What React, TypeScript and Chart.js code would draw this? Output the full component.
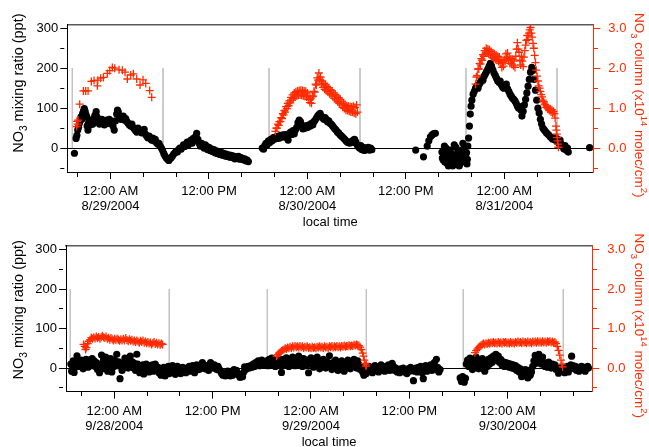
import { useEffect, useRef } from 'react';
import { Chart, registerables } from 'chart.js';
Chart.register(...registerables);

const FONT = '"Liberation Sans", Arial, Helvetica, sans-serif';
const RED = '#ff2a00';
const GRAY = '#c4c4c4';

// ---- shared axis data ----
const xTickHours = [-4, 0, 4, 8, 12, 16, 20, 24, 28, 32, 36, 40, 44, 48, 52, 56];
const leftTicks = [-50, 0, 50, 100, 150, 200, 250, 300];
const rightTicks = [-0.5, 0, 0.5, 1, 1.5, 2, 2.5, 3];
const topDates = ['8/29/2004', '8/30/2004', '8/31/2004'];
const bottomDates = ['9/28/2004', '9/29/2004', '9/30/2004'];

// sunset / sunrise markers (hours from first midnight)
const topSunLines = [-4.66, 6.4, 19.32, 30.41, 43.33, 54.43];
const bottomSunLines = [-5.37, 6.71, 18.67, 30.75, 42.58, 54.78];

// ---- top panel: NO3 mixing ratio (ppt) ----
const topBlack: [number, number][] = [
  [-4.4,-13],[-4.2,24],[-4.1,32],[-4.0,45],[-3.9,52],[-3.8,62],[-3.7,70],[-3.6,78],[-3.5,72],[-3.4,86],[-3.3,92],[-3.2,99],[-3.1,92],[-3.0,84],[-2.9,78],[-2.85,55],[-2.75,45],[-2.7,62],[-2.6,70],[-2.45,58],[-2.3,66],[-2.15,60],[-2.05,74],[-1.9,82],[-1.75,91],[-1.65,78],[-1.5,68],[-1.35,60],[-1.2,64],[-1.05,72],[-0.9,66],[-0.75,58],[-0.6,66],[-0.45,70],[-0.3,62],[-0.15,72],[0,68],[0.15,60],[0.3,55],[0.45,45],[0.6,68],[0.75,85],[0.85,95],[0.95,90],[1.1,80],[1.25,72],[1.4,78],[1.55,80],[1.7,70],[1.85,74],[2.0,66],[2.15,62],[2.3,58],[2.45,55],[2.6,60],[2.75,52],[2.9,48],[3.05,44],[3.2,40],[3.35,50],[3.5,46],[3.65,42],[3.8,38],[3.95,44],[4.1,47],[4.25,35],[4.4,30],[4.55,26],[4.7,30],[4.85,24],[5.0,20],[5.15,25],[5.3,18],[5.45,22],[5.6,14],[5.75,10],[5.9,12],[6.05,5],[6.2,0],[6.35,-6],[6.5,-14],[6.65,-20],[6.8,-25],[6.95,-28],[7.1,-31],[7.25,-27],[7.4,-24],[7.55,-20],[7.7,-15],[7.85,-12],[8.0,-8],[8.15,-10],[8.3,-4],[8.45,0],[8.6,-3],[8.75,2],[8.9,8],[9.05,4],[9.2,10],[9.35,15],[9.5,8],[9.65,14],[9.8,20],[9.95,12],[10.1,24],[10.25,20],[10.4,30],[10.5,37],[10.65,22],[10.8,12],[10.95,5],[11.1,12],[11.25,6],[11.4,0],[11.55,8],[11.7,4],[11.85,-4],[12.0,2],[12.15,-6],[12.3,-2],[12.45,-9],[12.6,-4],[12.75,-12],[12.9,-7],[13.05,-14],[13.2,-9],[13.35,-16],[13.5,-11],[13.65,-18],[13.8,-13],[13.95,-20],[14.1,-15],[14.25,-21],[14.4,-17],[14.55,-23],[14.7,-18],[14.85,-24],[15.0,-20],[15.15,-27],[15.3,-22],[15.45,-26],[15.6,-21],[15.75,-28],[15.9,-24],[16.05,-26],[16.2,-30],[16.35,-27],[16.5,-32],[16.65,-30],[16.8,-34],
  [18.5,0],[18.65,-3],[18.8,6],[18.95,12],[19.1,8],[19.25,18],[19.4,14],[19.55,22],[19.7,18],[19.85,26],[20.0,22],[20.15,28],[20.3,24],[20.45,30],[20.6,25],[20.75,32],[20.9,27],[21.05,33],[21.2,28],[21.35,34],[21.5,26],[21.65,20],[21.8,36],[21.95,40],[22.1,34],[22.25,44],[22.4,36],[22.55,46],[22.7,52],[22.85,64],[23.0,70],[23.15,66],[23.3,58],[23.45,48],[23.6,54],[23.75,50],[23.9,56],[24.05,52],[24.2,58],[24.35,55],[24.5,62],[24.65,58],[24.8,66],[24.95,70],[25.1,75],[25.25,80],[25.4,84],[25.55,87],[25.7,80],[25.85,76],[26.0,72],[26.15,76],[26.3,72],[26.45,66],[26.6,68],[26.75,62],[26.9,60],[27.05,56],[27.2,52],[27.35,48],[27.5,45],[27.65,40],[27.8,38],[27.95,34],[28.1,31],[28.25,28],[28.4,25],[28.55,22],[28.7,18],[28.85,15],[29.0,14],[29.15,12],[29.3,16],[29.45,14],[29.6,20],[29.75,22],[29.9,15],[30.05,8],[30.2,4],[30.35,0],[30.5,6],[30.65,-4],[30.8,2],[30.95,-6],[31.1,0],[31.25,-3],[31.4,2],[31.55,-5],[31.7,0],[31.85,-4],
  [37.2,-5],[38.15,-22],[38.6,5],[38.8,18],[39.0,28],[39.2,33],[39.4,36],[39.6,37],
  [40.4,-10],[40.45,-25],[40.55,-30],[40.6,-5],[40.7,5],[40.75,-35],[40.85,-18],[40.9,0],[41.0,-38],[41.1,-28],[41.15,-10],[41.2,-45],[41.3,-25],[41.4,-5],[41.45,-42],[41.5,-20],[41.6,-15],[41.7,-45],[41.75,-32],[41.85,-22],[41.9,8],[42.0,-40],[42.05,-20],[42.1,2],[42.2,-40],[42.3,-30],[42.35,-8],[42.45,-15],[42.5,-45],[42.6,-40],[42.65,-28],[42.75,-18],[42.8,-5],[42.9,-32],[42.95,12],[43.0,-10],[43.1,-20],[43.15,2],[43.25,-35],[43.3,-25],[43.4,-12],[43.45,-40],[43.5,-28],[43.55,5],[43.65,25],[43.75,55],[43.85,85],[43.95,105],[44.05,120],[44.2,135],[44.35,142],[44.5,150],[44.65,155],[44.8,150],[44.95,160],[45.1,165],[45.25,172],[45.4,170],[45.55,180],[45.7,186],[45.85,192],[46.0,198],[46.15,205],[46.3,212],[46.45,205],[46.6,196],[46.75,188],[46.9,182],[47.05,175],[47.2,168],[47.35,165],[47.5,168],[47.65,158],[47.8,152],[47.95,150],[48.1,155],[48.25,160],[48.4,148],[48.55,142],[48.7,135],[48.85,130],[49.0,125],[49.15,122],[49.3,118],[49.45,112],[49.6,105],[49.75,100],[49.9,104],[50.05,95],[50.15,80],[50.3,92],[50.45,108],[50.6,122],[50.75,138],[50.9,155],[51.05,172],[51.2,190],[51.35,202],[51.5,195],[51.65,172],[51.8,145],[51.95,120],[52.1,100],[52.25,88],[52.4,72],[52.55,60],[52.7,50],[52.85,46],[53.0,42],[53.15,38],[53.3,35],[53.45,32],[53.6,28],[53.75,26],[53.9,22],[54.05,26],[54.2,20],[54.35,24],[54.5,16],[54.65,12],[54.8,20],[54.95,10],[55.1,5],[55.25,-2],[55.4,6],[55.55,-5],[55.7,0],[55.8,-10],[58.4,1],
];

// ---- top panel: NO3 column (x1e14 molec/cm2) ----
const topRed: [number, number][] = [
  [-4.12,0.54],[-4.08,0.67],[-4.02,0.6],[-3.96,0.7],[-3.76,1.1],[-3.31,1.43],[-3.03,1.43],[-2.74,1.43],[-2.34,1.67],[-2.01,1.69],[-1.61,1.56],[-1.55,1.7],[-1.2,1.75],[-0.87,1.77],[-0.39,1.87],[-0.1,1.94],[0.22,2.02],[0.51,2.0],[1.04,1.96],[1.44,1.95],[1.77,1.9],[2.05,1.73],[2.46,1.83],[2.78,1.86],[3.19,1.73],[3.6,1.58],[3.96,1.71],[4.29,1.62],[4.77,1.44],[5.02,1.27],
  [20.1,0.42],[20.2,0.5],[20.3,0.5],[20.4,0.6],[20.5,0.57],[20.6,0.66],[20.7,0.66],[20.8,0.76],[20.9,0.74],[21.0,0.86],[21.1,0.83],[21.2,0.94],[21.3,0.9],[21.4,1.04],[21.5,0.99],[21.6,1.12],[21.7,1.06],[21.8,1.18],[21.9,1.13],[22.0,1.27],[22.1,1.2],[22.2,1.33],[22.3,1.24],[22.4,1.38],[22.5,1.28],[22.6,1.41],[22.7,1.31],[22.8,1.43],[22.9,1.32],[23.0,1.44],[23.1,1.33],[23.2,1.45],[23.3,1.32],[23.4,1.44],[23.5,1.31],[23.6,1.43],[23.7,1.3],[23.8,1.42],[23.9,1.28],[24.0,1.38],[24.1,1.22],[24.2,1.3],[24.3,1.14],[24.4,1.24],[24.5,1.12],[24.6,1.28],[24.7,1.3],[24.8,1.42],[24.9,1.4],[25.0,1.6],[25.1,1.58],[25.2,1.76],[25.3,1.7],[25.4,1.88],[25.5,1.72],[25.6,1.78],[25.7,1.6],[25.8,1.68],[25.9,1.52],[26.0,1.62],[26.1,1.47],[26.2,1.58],[26.3,1.44],[26.4,1.54],[26.5,1.41],[26.6,1.51],[26.7,1.36],[26.8,1.46],[26.9,1.33],[27.0,1.43],[27.1,1.3],[27.2,1.38],[27.3,1.24],[27.4,1.34],[27.5,1.2],[27.6,1.3],[27.7,1.16],[27.8,1.26],[27.9,1.12],[28.0,1.22],[28.1,1.08],[28.2,1.17],[28.3,1.02],[28.4,1.12],[28.5,0.99],[28.6,1.09],[28.7,0.95],[28.8,1.06],[28.9,0.94],[29.0,1.05],[29.1,0.92],[29.2,1.04],[29.3,0.9],[29.4,1.03],[29.5,0.9],[29.6,1.05],[29.7,0.88],[29.8,1.02],[29.9,0.86],[30.0,1.08],[30.1,0.9],
  [44.5,1.6],[44.6,1.78],[44.7,1.82],[44.8,1.98],[44.9,1.98],[45.0,2.12],[45.1,2.1],[45.2,2.24],[45.3,2.2],[45.4,2.34],[45.5,2.3],[45.6,2.44],[45.7,2.38],[45.8,2.5],[45.9,2.38],[46.0,2.48],[46.1,2.36],[46.2,2.46],[46.3,2.33],[46.4,2.42],[46.5,2.28],[46.6,2.38],[46.7,2.25],[46.8,2.36],[46.9,2.22],[47.0,2.33],[47.1,2.2],[47.2,2.3],[47.3,2.17],[47.4,2.28],[47.5,2.12],[47.6,2.2],[47.7,2.02],[47.8,2.14],[47.9,2.05],[48.0,2.22],[48.1,2.18],[48.2,2.36],[48.3,2.26],[48.4,2.38],[48.5,2.2],[48.6,2.28],[48.7,2.12],[48.8,2.24],[48.9,2.1],[49.0,2.22],[49.1,2.06],[49.2,2.18],[49.3,2.02],[49.4,2.3],[49.5,2.48],[49.6,2.64],[49.7,2.48],[49.8,2.4],[49.9,2.2],[50.0,2.08],[50.1,2.3],[50.2,2.18],[50.3,2.04],[50.4,2.28],[50.5,2.44],[50.6,2.58],[50.7,2.7],[50.8,2.82],[50.9,2.72],[51.0,2.88],[51.1,2.96],[51.2,3.02],[51.3,2.88],[51.4,2.78],[51.5,2.62],[51.6,2.5],[51.7,2.32],[51.8,2.14],[51.9,1.95],[52.0,1.8],[52.1,1.68],[52.2,1.56],[52.3,1.5],[52.4,1.42],[52.5,1.34],[52.6,1.28],[52.7,1.2],[52.8,1.16],[52.9,1.1],[53.0,1.08],[53.1,1.02],[53.2,1.05],[53.3,0.98],[53.4,1.0],[53.5,0.94],[53.6,0.98],[53.7,0.9],[53.8,0.96],[53.9,0.88],[54.0,0.92],[54.1,0.86],[54.2,0.75],[54.3,0.55],[54.35,0.45],[54.4,0.35],[54.45,0.26],[54.5,0.18],[54.55,0.1],[54.6,0.02],
];

// ---- bottom panel: NO3 mixing ratio (ppt) ----
const bottomBlack: [number, number][] = [
  [-5.3,10],[-5.2,-8],[-5.1,6],[-5.0,18],[-4.9,-11],[-4.8,2],[-4.7,14],[-4.55,31],[-4.45,8],[-4.3,16],[-4.2,4],[-4.05,20],[-3.95,10],[-3.8,-2],[-3.7,15],[-3.55,8],[-3.45,22],[-3.3,12],[-3.2,2],[-3.05,20],[-2.95,14],[-2.8,6],[-2.7,24],[-2.55,10],[-2.45,18],[-2.3,4],[-2.2,14],[-2.05,-4],[-1.95,10],[-1.8,-12],[-1.7,2],[-1.55,33],[-1.45,12],[-1.3,22],[-1.2,-2],[-1.05,28],[-0.95,8],[-0.8,-8],[-0.7,18],[-0.55,2],[-0.45,24],[-0.3,-10],[-0.2,12],[-0.05,4],[0.05,20],[0.2,13],[0.3,35],[0.4,6],[0.55,16],[0.7,-27],[0.8,8],[0.95,-6],[1.05,12],[1.2,2],[1.3,25],[1.45,10],[1.55,18],[1.7,0],[1.8,22],[1.95,30],[2.05,8],[2.2,16],[2.35,0],[2.45,12],[2.6,-6],[2.75,35],[2.85,10],[3.0,4],[3.1,-12],[3.25,6],[3.35,-4],[3.5,8],[3.6,-15],[3.75,2],[3.9,10],[4.0,-6],[4.15,6],[4.25,-10],[4.4,4],[4.5,-2],[4.65,8],[4.75,-8],[4.9,0],[5.0,10],[5.15,-4],[5.3,2],[5.45,-12],[5.55,0],[5.7,-18],[5.8,-6],[5.95,-14],[6.05,2],[6.2,-20],[6.3,-8],
  [6.45,-2],[6.6,4],[6.7,-14],[6.85,0],[6.95,-8],[7.1,6],[7.2,-12],[7.35,-2],[7.45,-16],[7.6,-4],[7.7,4],[7.85,-10],[7.95,0],[8.1,-14],[8.2,-4],[8.35,2],[8.45,-10],[8.6,-2],[8.75,-12],[8.85,0],[9.0,-6],[9.15,4],[9.25,-8],[9.4,-2],[9.55,6],[9.65,-4],[9.8,-12],[9.95,-2],[10.05,8],[10.2,2],[10.35,-4],[10.5,6],[10.65,0],[10.75,14],[10.9,4],[11.05,-2],[11.2,6],[11.35,0],[11.5,-6],[11.6,2],[11.75,14],[11.9,4],[12.05,0],[12.2,8],[12.35,2],[12.5,-4],[12.65,4],[12.8,-2],[12.95,-8],[13.1,-14],[13.25,-18],[13.4,-12],[13.55,-20],[13.7,-14],[13.85,-8],[14.0,-16],[14.15,-20],[14.3,-12],[14.45,-18],[14.6,-4],[14.75,-10],[14.9,-6],[15.05,-14],[15.2,-18],[15.35,-24],[15.5,-16],[15.65,-22],[15.8,-10],[15.9,3],[16.05,-4],[16.2,2],[16.35,4],[16.5,0],[16.65,6],[16.8,2],[16.95,10],[17.1,4],[17.25,14],[17.4,8],[17.55,18],[17.7,6],[17.85,12],[18.0,20],[18.15,8],[18.3,16],
  [18.45,10],[18.6,18],[18.75,6],[18.9,22],[19.05,12],[19.2,25],[19.35,8],[19.5,18],[19.65,4],[19.8,20],[19.95,10],[20.1,24],[20.25,6],[20.4,-11],[20.55,14],[20.7,22],[20.85,8],[21.0,26],[21.15,14],[21.3,4],[21.45,20],[21.6,10],[21.75,28],[21.9,16],[22.05,6],[22.2,22],[22.35,12],[22.5,30],[22.65,8],[22.8,18],[22.95,4],[23.1,24],[23.25,14],[23.4,6],[23.55,20],[23.7,-12],[23.85,10],[24.0,26],[24.15,14],[24.3,2],[24.45,20],[24.6,8],[24.75,28],[24.9,12],[25.05,-2],[25.2,18],[25.35,6],[25.5,22],[25.65,10],[25.8,0],[25.95,16],[26.1,4],[26.25,31],[26.4,12],[26.55,-4],[26.7,14],[26.85,4],[27.0,20],[27.15,8],[27.3,-6],[27.45,12],[27.6,2],[27.75,18],[27.9,6],[28.05,-8],[28.2,14],[28.35,4],[28.5,20],[28.65,8],[28.8,-2],[28.95,16],[29.1,6],[29.25,22],[29.4,10],[29.55,0],[29.7,18],[29.85,8],[30.0,-4],[30.15,2],[30.3,-10],[30.45,-18],[30.6,-6],[30.75,-14],[30.9,-2],
  [31.05,4],[31.2,-8],[31.35,2],[31.5,-12],[31.65,-2],[31.8,6],[31.95,-6],[32.1,2],[32.25,-10],[32.4,0],[32.55,8],[32.7,-4],[32.85,2],[33.0,-8],[33.15,4],[33.3,-2],[33.45,8],[33.6,-6],[33.75,2],[33.9,12],[34.05,4],[34.2,-6],[34.35,0],[34.5,-10],[34.65,-4],[34.8,-12],[34.95,-2],[35.1,-8],[35.25,0],[35.4,-10],[35.55,-4],[35.7,-14],[35.85,-2],[36.0,-8],[36.15,2],[36.3,-6],[36.5,-32],[36.65,-8],[36.8,0],[36.95,-10],[37.1,2],[37.25,-6],[37.4,4],[37.55,-12],[37.7,-27],[37.85,-4],[38.0,6],[38.15,-8],[38.3,2],[38.45,-2],[38.6,8],[38.75,-6],[38.9,4],[39.05,14],[39.15,-4],[39.3,22],[39.45,2],[39.6,-10],[39.75,-4],
  [42.2,-25],[42.35,-34],[42.5,-22],[42.7,-36],[42.85,-26],[42.95,10],[43.1,20],[43.25,4],[43.4,25],[43.55,12],[43.7,-4],[43.85,18],[44.0,8],[44.15,28],[44.3,14],[44.45,-2],[44.6,20],[44.75,6],[44.9,24],[45.05,12],[45.2,-8],[45.35,16],[45.5,4],[45.65,22],[45.8,10],[45.95,26],[46.1,14],[46.25,30],[46.4,20],[46.55,35],[46.7,24],[46.85,30],[47.0,14],[47.15,22],[47.3,8],[47.45,16],[47.6,4],[47.75,14],[47.9,6],[48.05,12],[48.2,2],[48.35,10],[48.5,0],[48.65,8],[48.8,-2],[48.95,6],[49.1,-6],[49.25,2],[49.4,-10],[49.55,-2],[49.7,-22],[49.85,-8],[50.0,-18],[50.15,-4],[50.3,-14],[50.45,-25],[50.6,-6],[50.75,-18],[50.9,-10],[51.05,4],[51.2,18],[51.35,32],[51.5,12],[51.65,26],[51.8,35],[51.95,20],[52.1,10],[52.25,28],[52.4,14],[52.55,4],[52.7,12],[52.85,2],[53.0,15],[53.15,6],[53.3,0],[53.45,10],[53.6,2],[53.75,8],[53.9,-4],[54.05,2],[54.2,-13],[54.35,-4],[54.5,2],[54.65,-8],[54.8,0],[54.95,-12],[55.1,-4],[55.25,4],[55.4,-10],[55.55,2],[55.7,8],[55.8,30],[55.95,6],[56.1,-2],[56.25,4],[56.4,-6],[56.55,2],[56.7,-8],[56.85,0],[57.0,4],[57.15,-4],[57.3,2],[57.45,-8],[57.6,0],[57.75,4],[57.85,0],
];

// ---- bottom panel: NO3 column ----
const bottomRed: [number, number][] = [
  [-3.75,0.6],[-3.6,0.55],[-3.5,0.47],[-3.4,0.52],[-3.25,0.62],[-3.1,0.68],[-2.95,0.72],[-2.8,0.77],[-2.65,0.74],[-2.5,0.78],[-2.35,0.75],[-2.2,0.8],[-2.05,0.76],[-1.9,0.79],[-1.75,0.74],[-1.6,0.78],[-1.45,0.82],[-1.3,0.78],[-1.15,0.76],[-1.0,0.8],[-0.85,0.74],[-0.7,0.77],[-0.55,0.72],[-0.4,0.76],[-0.25,0.73],[-0.1,0.7],[0.05,0.74],[0.2,0.71],[0.35,0.75],[0.5,0.72],[0.65,0.69],[0.8,0.73],[0.95,0.7],[1.1,0.74],[1.25,0.7],[1.4,0.76],[1.55,0.71],[1.7,0.68],[1.85,0.73],[2.0,0.69],[2.15,0.72],[2.3,0.67],[2.45,0.7],[2.6,0.66],[2.75,0.7],[2.9,0.67],[3.05,0.64],[3.2,0.69],[3.35,0.66],[3.5,0.7],[3.65,0.64],[3.8,0.67],[3.95,0.63],[4.1,0.66],[4.25,0.62],[4.4,0.65],[4.55,0.6],[4.7,0.63],[4.85,0.66],[5.0,0.61],[5.15,0.64],[5.3,0.6],[5.45,0.63],[5.6,0.59],[5.75,0.62],[5.9,0.6],
  [19.8,0.3],[19.95,0.34],[20.1,0.38],[20.25,0.4],[20.4,0.43],[20.55,0.45],[20.7,0.47],[20.85,0.5],[21.0,0.48],[21.15,0.52],[21.3,0.5],[21.45,0.54],[21.6,0.51],[21.75,0.55],[21.9,0.52],[22.05,0.56],[22.2,0.53],[22.35,0.55],[22.5,0.52],[22.65,0.56],[22.8,0.53],[22.95,0.55],[23.1,0.51],[23.25,0.54],[23.4,0.52],[23.55,0.55],[23.7,0.51],[23.85,0.53],[24.0,0.5],[24.15,0.54],[24.3,0.51],[24.45,0.53],[24.6,0.5],[24.75,0.54],[24.9,0.52],[25.05,0.55],[25.2,0.52],[25.35,0.54],[25.5,0.51],[25.65,0.55],[25.8,0.52],[25.95,0.54],[26.1,0.51],[26.25,0.55],[26.4,0.53],[26.55,0.56],[26.7,0.52],[26.85,0.55],[27.0,0.53],[27.15,0.56],[27.3,0.53],[27.45,0.55],[27.6,0.52],[27.75,0.56],[27.9,0.54],[28.05,0.57],[28.2,0.54],[28.35,0.56],[28.5,0.55],[28.65,0.58],[28.8,0.55],[28.95,0.57],[29.1,0.56],[29.25,0.59],[29.4,0.57],[29.55,0.6],[29.7,0.58],[29.85,0.57],[30.0,0.53],[30.15,0.47],[30.3,0.38],[30.4,0.3],[30.5,0.2],[30.6,0.12],[30.7,0.05],[30.75,0.08],
  [44.0,0.39],[44.15,0.44],[44.3,0.48],[44.45,0.52],[44.6,0.55],[44.75,0.58],[44.9,0.6],[45.05,0.62],[45.2,0.6],[45.35,0.63],[45.5,0.61],[45.65,0.64],[45.8,0.62],[45.95,0.65],[46.1,0.63],[46.25,0.66],[46.4,0.63],[46.55,0.65],[46.7,0.62],[46.85,0.66],[47.0,0.63],[47.15,0.65],[47.3,0.62],[47.45,0.66],[47.6,0.64],[47.75,0.66],[47.9,0.63],[48.05,0.65],[48.2,0.62],[48.35,0.66],[48.5,0.63],[48.65,0.65],[48.8,0.62],[48.95,0.66],[49.1,0.64],[49.25,0.67],[49.4,0.64],[49.55,0.66],[49.7,0.63],[49.85,0.67],[50.0,0.64],[50.15,0.66],[50.3,0.63],[50.45,0.67],[50.6,0.64],[50.75,0.66],[50.9,0.63],[51.05,0.67],[51.2,0.65],[51.35,0.67],[51.5,0.64],[51.65,0.68],[51.8,0.65],[51.95,0.67],[52.1,0.64],[52.25,0.68],[52.4,0.65],[52.55,0.67],[52.7,0.64],[52.85,0.68],[53.0,0.66],[53.15,0.68],[53.3,0.65],[53.45,0.67],[53.6,0.64],[53.75,0.66],[53.9,0.62],[54.05,0.55],[54.2,0.45],[54.35,0.33],[54.5,0.2],[54.6,0.1],[54.7,0.03],
];

type Seg = [string, number]; // 0 normal, -1 subscript, 1 superscript
const leftTitle: Seg[] = [['NO', 0], ['3', -1], [' mixing ratio (ppt)', 0]];
const rightTitle: Seg[] = [['NO', 0], ['3', -1], [' column (x10', 0], ['14', 1], [' molec/cm', 0], ['2', 1], [')', 0]];

interface Panel {
  black: [number, number][];
  red: [number, number][];
  sun: number[];
  dates: string[];
  xMin: number;
  xMax: number;
  leftW: number;
  rightW: number;
  topH: number;
  bottomH: number;
  leftTitleShift: number;
  rightTitleShift: number;
}

function drawSegs(ctx: CanvasRenderingContext2D, segs: Seg[], cx: number, cy: number, angle: number, size: number, color: string) {
  ctx.save();
  ctx.translate(cx, cy);
  ctx.rotate(angle);
  ctx.fillStyle = color;
  ctx.textBaseline = 'alphabetic';
  ctx.textAlign = 'left';
  const small = size * 0.7;
  const widths = segs.map(([t, k]) => {
    ctx.font = `${k ? small : size}px ${FONT}`;
    return ctx.measureText(t).width;
  });
  const total = widths.reduce((a, b) => a + b, 0);
  let x = -total / 2;
  const base = size * 0.35;
  segs.forEach(([t, k], i) => {
    ctx.font = `${k ? small : size}px ${FONT}`;
    const y = base + (k === -1 ? size * 0.3 : k === 1 ? -size * 0.45 : 0);
    ctx.fillText(t, x, y);
    x += widths[i];
  });
  ctx.restore();
}

function makeConfig(p: Panel): any {
  const sunData: any[] = [];
  p.sun.forEach((h) => {
    sunData.push({ x: h, y: 200 }, { x: h, y: 0 }, { x: h, y: null });
  });
  const dash = (major: boolean) => (major ? [] : [4, 30]);
  const titlePlugin = {
    id: 'axisTitles',
    afterDraw(chart: any) {
      const { ctx, chartArea } = chart;
      const mid = (chartArea.top + chartArea.bottom) / 2;
      drawSegs(ctx, leftTitle, 18, mid + p.leftTitleShift, -Math.PI / 2, 14.5, '#000');
      drawSegs(ctx, rightTitle, 640, mid + p.rightTitleShift, Math.PI / 2, 13.5, RED);
    },
  };
  return {
    type: 'scatter',
    data: {
      datasets: [
        {
          label: 'NO3 column',
          data: p.red.map(([x, y]) => ({ x, y })),
          yAxisID: 'y2',
          pointStyle: 'cross',
          pointRadius: 4,
          pointBorderWidth: 1.3,
          pointBorderColor: RED,
          pointBackgroundColor: RED,
          order: 0,
        },
        {
          label: 'NO3 mixing ratio',
          data: p.black.map(([x, y]) => ({ x, y })),
          yAxisID: 'y',
          pointStyle: 'circle',
          pointRadius: 3.6,
          pointBorderWidth: 0,
          pointBackgroundColor: '#000',
          order: 1,
        },
        {
          label: 'sun',
          data: sunData,
          yAxisID: 'y',
          showLine: true,
          spanGaps: false,
          pointRadius: 0,
          borderColor: GRAY,
          borderWidth: 1,
          order: 2,
        },
      ],
    },
    options: {
      responsive: false,
      animation: false,
      events: [],
      devicePixelRatio: 1,
      layout: { padding: 0 },
      font: { family: FONT },
      plugins: { legend: { display: false }, tooltip: { enabled: false } },
      scales: {
        x: {
          type: 'linear',
          position: 'bottom',
          min: p.xMin,
          max: p.xMax,
          afterBuildTicks: (s: any) => { s.ticks = xTickHours.map((v) => ({ value: v })); },
          afterFit: (s: any) => { s.height = p.bottomH; },
          ticks: {
            autoSkip: false,
            maxRotation: 0,
            padding: 5,
            color: '#000',
            font: { family: FONT, size: 13, lineHeight: 1.15 },
            callback: (v: number) => {
              const m = ((v % 24) + 24) % 24;
              if (m === 0) return ['12:00 AM', p.dates[v / 24]];
              if (m === 12) return '12:00 PM';
              return '';
            },
          },
          grid: {
            drawOnChartArea: false,
            tickLength: 7,
            color: '#000',
            tickColor: '#000',
            tickBorderDash: (c: any) => dash(c.tick && c.tick.value % 12 === 0),
          },
          border: { display: true, color: '#000', width: 1 },
          title: { display: true, text: 'local time', color: '#000', padding: { top: 0, bottom: 0 }, font: { family: FONT, size: 13 } },
        },
        xTop: {
          type: 'linear',
          position: 'top',
          min: p.xMin,
          max: p.xMax,
          ticks: { display: false },
          grid: { display: false },
          border: { display: true, color: '#5a5a5a', width: 1.5 },
          afterFit: (s: any) => { s.height = p.topH; },
        },
        y: {
          type: 'linear',
          position: 'left',
          min: -60,
          max: 310,
          afterBuildTicks: (s: any) => { s.ticks = leftTicks.map((v) => ({ value: v })); },
          afterFit: (s: any) => { s.width = p.leftW; },
          ticks: {
            padding: 2,
            color: '#000',
            font: { family: FONT, size: 13 },
            callback: (v: number) => (v % 100 === 0 ? String(v) : ''),
          },
          grid: {
            drawOnChartArea: true,
            tickLength: 7,
            color: (c: any) => (c.tick && c.tick.value === 0 ? '#000' : 'rgba(0,0,0,0)'),
            tickColor: '#000',
            tickBorderDash: (c: any) => dash(c.tick && c.tick.value % 100 === 0),
          },
          border: { display: true, color: '#000', width: 1 },
        },
        y2: {
          type: 'linear',
          position: 'right',
          min: -0.6,
          max: 3.1,
          afterBuildTicks: (s: any) => { s.ticks = rightTicks.map((v) => ({ value: v })); },
          afterFit: (s: any) => { s.width = p.rightW; },
          ticks: {
            padding: 8,
            color: RED,
            font: { family: FONT, size: 13 },
            callback: (v: number) => (Math.abs(v - Math.round(v)) < 1e-6 ? v.toFixed(1) : ''),
          },
          grid: {
            drawOnChartArea: false,
            tickLength: 7,
            color: RED,
            tickColor: RED,
            tickBorderDash: (c: any) => dash(c.tick && Math.abs(c.tick.value - Math.round(c.tick.value)) < 1e-6),
          },
          border: { display: true, color: RED, width: 1 },
        },
      },
    },
    plugins: [titlePlugin],
  };
}

const topPanel: Panel = {
  black: topBlack, red: topRed, sun: topSunLines, dates: topDates,
  xMin: -5.27, xMax: 58.85, leftW: 67.3, rightW: 55.7, topH: 24.3, bottomH: 58,
  leftTitleShift: -15, rightTitleShift: 7,
};
const bottomPanel: Panel = {
  black: bottomBlack, red: bottomRed, sun: bottomSunLines, dates: bottomDates,
  xMin: -5.89, xMax: 58.32, leftW: 66, rightW: 56.7, topH: 13.3, bottomH: 58.3,
  leftTitleShift: -9, rightTitleShift: 7,
};

function PanelChart({ panel, top, height }: { panel: Panel; top: number; height: number }) {
  const ref = useRef<HTMLCanvasElement>(null);
  useEffect(() => {
    if (!ref.current) return;
    const chart = new Chart(ref.current, makeConfig(panel));
    return () => chart.destroy();
  }, [panel]);
  return (
    <canvas
      ref={ref}
      width={649}
      height={height}
      style={{ position: 'absolute', left: 0, top, width: 649, height }}
    />
  );
}

export default function App() {
  return (
    <div style={{ position: 'absolute', left: 0, top: 0, width: 649, height: 447, overflow: 'hidden', background: '#fff' }}>
      <PanelChart panel={topPanel} top={0} height={230} />
      <PanelChart panel={bottomPanel} top={230} height={220} />
    </div>
  );
}
